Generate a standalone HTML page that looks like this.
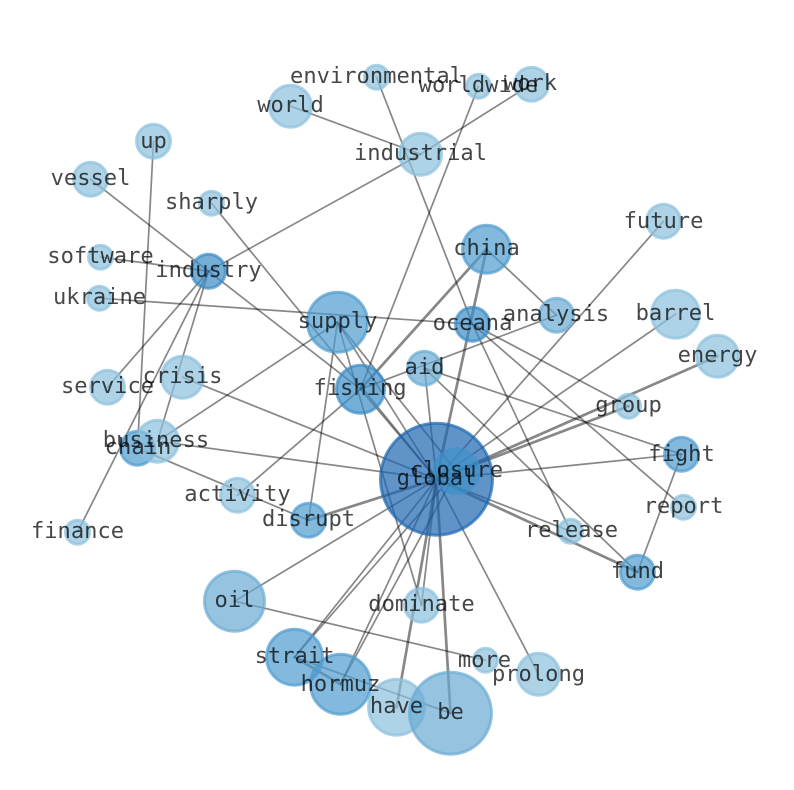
<!DOCTYPE html>
<html><head><meta charset="utf-8">
<style>
html,body{margin:0;padding:0;background:#fff;width:794px;height:790px;overflow:hidden}
svg{display:block}
.e line{stroke:#000;stroke-opacity:.47;stroke-width:1.7;stroke-linecap:round}
.e2 line{stroke:#000;stroke-opacity:.47;stroke-width:2.7;stroke-linecap:round}
circle{stroke-width:3}
.a{fill:#8cc0dd;stroke:#8cc0dd;fill-opacity:.7;stroke-opacity:.7}
.b{fill:#6aabd3;stroke:#6aabd3;fill-opacity:.7;stroke-opacity:.7}
.c{fill:#4f9bcd;stroke:#4f9bcd;fill-opacity:.7;stroke-opacity:.7}
.d{fill:#3a8cc5;stroke:#3a8cc5;fill-opacity:.7;stroke-opacity:.7}
.g{fill:#1c66b0;stroke:#1c66b0;fill-opacity:.7;stroke-opacity:.7}
.h{fill:#3e92c9;stroke:#3e92c9;fill-opacity:.7;stroke-opacity:.7}
text{font-family:"DejaVu Sans Mono","Liberation Mono",monospace;font-size:22.1px;fill:#000;fill-opacity:.72;text-anchor:middle}
</style></head><body>
<svg width="794" height="790" viewBox="0 0 794 790" xmlns="http://www.w3.org/2000/svg">
<g transform="translate(0.5,0.2)">
<g class="e">
<line x1="290" y1="106" x2="420" y2="154"/>
<line x1="531" y1="84" x2="420" y2="154"/>
<line x1="420" y1="154" x2="208" y2="271"/>
<line x1="376" y1="77" x2="472" y2="324"/>
<line x1="478" y1="86" x2="360" y2="389"/>
<line x1="153" y1="141" x2="137" y2="448"/>
<line x1="90" y1="179" x2="208" y2="271"/>
<line x1="211" y1="203" x2="436" y2="479"/>
<line x1="100" y1="257" x2="208" y2="271"/>
<line x1="99" y1="298" x2="472" y2="324"/>
<line x1="208" y1="271" x2="107" y2="387"/>
<line x1="208" y1="271" x2="77" y2="532"/>
<line x1="208" y1="271" x2="157" y2="441"/>
<line x1="208" y1="271" x2="360" y2="389"/>
<line x1="182" y1="377" x2="436" y2="479"/>
<line x1="157" y1="441" x2="436" y2="479"/>
<line x1="157" y1="441" x2="337" y2="322"/>
<line x1="137" y1="448" x2="308" y2="520"/>
<line x1="237" y1="495" x2="360" y2="389"/>
<line x1="360" y1="389" x2="556" y2="315"/>
<line x1="486" y1="249" x2="556" y2="315"/>
<line x1="337" y1="322" x2="308" y2="520"/>
<line x1="337" y1="322" x2="421" y2="605"/>
<line x1="337" y1="322" x2="436" y2="479"/>
<line x1="337" y1="322" x2="456" y2="471"/>
<line x1="360" y1="389" x2="436" y2="479"/>
<line x1="424" y1="368" x2="436" y2="479"/>
<line x1="424" y1="368" x2="681" y2="454"/>
<line x1="424" y1="368" x2="637" y2="572"/>
<line x1="472" y1="324" x2="570" y2="531"/>
<line x1="472" y1="324" x2="628" y2="406"/>
<line x1="472" y1="324" x2="683" y2="507"/>
<line x1="663" y1="221" x2="436" y2="479"/>
<line x1="675" y1="314" x2="436" y2="479"/>
<line x1="436" y1="479" x2="681" y2="454"/>
<line x1="681" y1="454" x2="637" y2="572"/>
<line x1="436" y1="479" x2="570" y2="531"/>
<line x1="436" y1="479" x2="234" y2="601"/>
<line x1="234" y1="601" x2="485" y2="660"/>
<line x1="436" y1="479" x2="538" y2="674"/>
<line x1="436" y1="479" x2="421" y2="605"/>
<line x1="294" y1="657" x2="450" y2="713"/>
<line x1="436" y1="479" x2="294" y2="657"/>
<line x1="456" y1="471" x2="294" y2="657"/>
<line x1="436" y1="479" x2="340" y2="684"/>
<line x1="456" y1="471" x2="340" y2="684"/>
</g>
<g class="e2">
<line x1="360" y1="389" x2="486" y2="249"/>
<line x1="486" y1="249" x2="436" y2="479"/>
<line x1="717" y1="356" x2="456" y2="471"/>
<line x1="628" y1="406" x2="436" y2="479"/>
<line x1="436" y1="479" x2="637" y2="572"/>
<line x1="308" y1="520" x2="436" y2="479"/>
<line x1="436" y1="479" x2="396" y2="707"/>
<line x1="436" y1="479" x2="450" y2="713"/>
<line x1="294" y1="657" x2="340" y2="684"/>
</g>
<g>
<circle class="a" cx="153" cy="141" r="17"/>
<circle class="a" cx="90" cy="179" r="17"/>
<circle class="a" cx="211" cy="203" r="12"/>
<circle class="a" cx="100" cy="257" r="12"/>
<circle class="d" cx="208" cy="271" r="17"/>
<circle class="a" cx="99" cy="298" r="12"/>
<circle class="a" cx="107" cy="387" r="17"/>
<circle class="a" cx="182" cy="377" r="21"/>
<circle class="c" cx="137" cy="448" r="17"/>
<circle class="a" cx="157" cy="441" r="21"/>
<circle class="a" cx="77" cy="532" r="12"/>
<circle class="a" cx="237" cy="495" r="17"/>
<circle class="c" cx="308" cy="520" r="17"/>
<circle class="c" cx="337" cy="322" r="30"/>
<circle class="d" cx="360" cy="389" r="24"/>
<circle class="b" cx="424" cy="368" r="17"/>
<circle class="d" cx="472" cy="324" r="17"/>
<circle class="c" cx="486" cy="249" r="24"/>
<circle class="b" cx="556" cy="315" r="17"/>
<circle class="a" cx="663" cy="221" r="17"/>
<circle class="a" cx="675" cy="314" r="24"/>
<circle class="a" cx="717" cy="356" r="21"/>
<circle class="a" cx="628" cy="406" r="12"/>
<circle class="c" cx="681" cy="454" r="17"/>
<circle class="a" cx="683" cy="507" r="12"/>
<circle class="a" cx="570" cy="531" r="12"/>
<circle class="c" cx="637" cy="572" r="17"/>
<circle class="g" cx="436" cy="479" r="56"/>
<circle class="h" cx="456" cy="471" r="24" style="stroke-opacity:0"/>
<circle class="a" cx="421" cy="605" r="17"/>
<circle class="a" cx="485" cy="660" r="12"/>
<circle class="a" cx="538" cy="674" r="21"/>
<circle class="a" cx="396" cy="707" r="28"/>
<circle class="b" cx="450" cy="713" r="41"/>
<circle class="c" cx="340" cy="684" r="30"/>
<circle class="c" cx="294" cy="657" r="28"/>
<circle class="b" cx="234" cy="601" r="30"/>
<circle class="a" cx="290" cy="106" r="21"/>
<circle class="a" cx="376" cy="77" r="12"/>
<circle class="a" cx="478" cy="86" r="12"/>
<circle class="a" cx="531" cy="84" r="17"/>
<circle class="a" cx="420" cy="154" r="21"/>
</g>
<g>
<text x="153" y="148">up</text>
<text x="90" y="185">vessel</text>
<text x="211" y="209">sharply</text>
<text x="100" y="263">software</text>
<text x="208" y="277">industry</text>
<text x="99" y="304">ukraine</text>
<text x="107" y="393">service</text>
<text x="182" y="383">crisis</text>
<text x="155.5" y="447">business</text>
<text x="137.5" y="454">chain</text>
<text x="77" y="538">finance</text>
<text x="237" y="501">activity</text>
<text x="308" y="526">disrupt</text>
<text x="337" y="328">supply</text>
<text x="359.5" y="395">fishing</text>
<text x="424" y="374">aid</text>
<text x="472" y="330">oceana</text>
<text x="486" y="255">china</text>
<text x="555.5" y="321">analysis</text>
<text x="663" y="228">future</text>
<text x="675" y="320">barrel</text>
<text x="717" y="362">energy</text>
<text x="628" y="412">group</text>
<text x="681" y="461">fight</text>
<text x="683" y="513">report</text>
<text x="571" y="537">release</text>
<text x="637" y="578">fund</text>
<text x="436" y="485">global</text>
<text x="456" y="477">closure</text>
<text x="421" y="611">dominate</text>
<text x="484" y="667">more</text>
<text x="538" y="681">prolong</text>
<text x="396" y="713">have</text>
<text x="450" y="719">be</text>
<text x="340" y="691">hormuz</text>
<text x="294" y="663">strait</text>
<text x="234" y="607">oil</text>
<text x="290" y="112">world</text>
<text x="376" y="83">environmental</text>
<text x="478" y="92">worldwide</text>
<text x="530" y="90">work</text>
<text x="420" y="160">industrial</text>
</g>
</g>
</svg>
</body></html>
